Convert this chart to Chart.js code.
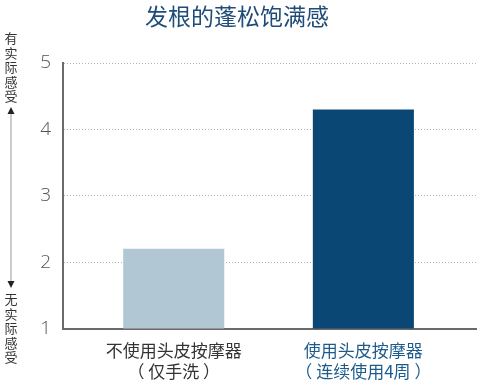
<!DOCTYPE html>
<html><head><meta charset="utf-8">
<script src="https://cdn.jsdelivr.net/npm/chart.js@4"></script>
<style>
html,body{margin:0;padding:0;background:#fff;}
#wrap{position:relative;width:478px;height:383px;font-family:"Noto Sans CJK SC","Noto Sans",sans-serif;}
#c{position:absolute;left:0;top:0;}
#title{position:absolute;left:0;width:474px;top:0px;text-align:center;font-size:23px;line-height:30px;color:#1f4c78;}
.vt{position:absolute;left:4px;width:14px;font-size:13px;line-height:14.6px;color:#333;text-align:center;}
#arrow{position:absolute;left:4px;top:106px;}
</style></head>
<body><div id="wrap">
<canvas id="c" width="478" height="383"></canvas>
<div id="title">发根的蓬松饱满感</div>
<div class="vt" style="top:31px">有<br>实<br>际<br>感<br>受</div>
<svg id="arrow" width="14" height="184"><line x1="7" y1="4" x2="7" y2="178" stroke="#999" stroke-width="1"/><polygon points="7,1 3.5,8 10.5,8" fill="#222"/><polygon points="7,182 3.5,175 10.5,175" fill="#222"/></svg>
<div class="vt" style="top:292px">无<br>实<br>际<br>感<br>受</div>
</div>
<script>
const categories = ['不使用头皮按摩器（仅手洗）', '使用头皮按摩器（连续使用4周）'];
const labelLines = [['不使用头皮按摩器', '（ 仅手洗 ）'], ['使用头皮按摩器', '（ 连续使用4周 ）']];
const values = [2.2, 4.3];
const barColors = ['#b1c7d4', '#0b4774'];
const labelColors = ['#333333', '#1d5b8d'];
const yTicks = [1, 2, 3, 4, 5];

new Chart(document.getElementById('c'), {
  type: 'bar',
  data: {
    datasets: [{
      data: values.map((v, i) => ({ x: i + 1, y: v })),
      backgroundColor: barColors,
      borderWidth: 0,
      barPercentage: 0.533,
      categoryPercentage: 1
    }]
  },
  options: {
    responsive: false,
    animation: false,
    devicePixelRatio: 1,
    layout: { padding: { left: 20, top: 63, right: 2, bottom: 0 } },
    plugins: { legend: { display: false }, tooltip: { enabled: false }, title: { display: false } },
    scales: {
      x: {
        type: 'linear',
        min: 0.416,
        max: 2.594,
        offset: false,
        grid: { display: false, offset: false },
        border: { display: true, color: '#6a6a6a', width: 2 },
        afterBuildTicks: s => { s.ticks = categories.map((_, i) => ({ value: i + 1 })); },
        afterFit: s => { s.height = 54.5; },
        ticks: {
          autoSkip: false,
          maxRotation: 0,
          padding: 4,
          font: { family: '"Noto Sans CJK SC"', size: 17 },
          lineHeight: 1.3,
          color: ctx => labelColors[ctx.index] || '#333',
          callback: (v, i) => labelLines[i]
        }
      },
      y: {
        min: 1,
        max: 5,
        afterBuildTicks: s => { s.ticks = yTicks.map(v => ({ value: v })); },
        afterFit: s => { s.width = 43; },
        grid: {
          drawTicks: false,
          color: ctx => (ctx.tick && ctx.tick.value === 1) ? 'rgba(0,0,0,0)' : '#b5b5b5',
          lineWidth: 1
        },
        border: { display: true, color: '#6a6a6a', width: 2, dash: [1, 2] },
        ticks: {
          padding: 12,
          font: { family: '"Open Sans"', size: 19, weight: 300 },
          color: '#555'
        }
      }
    }
  }
});
</script>
</body></html>
